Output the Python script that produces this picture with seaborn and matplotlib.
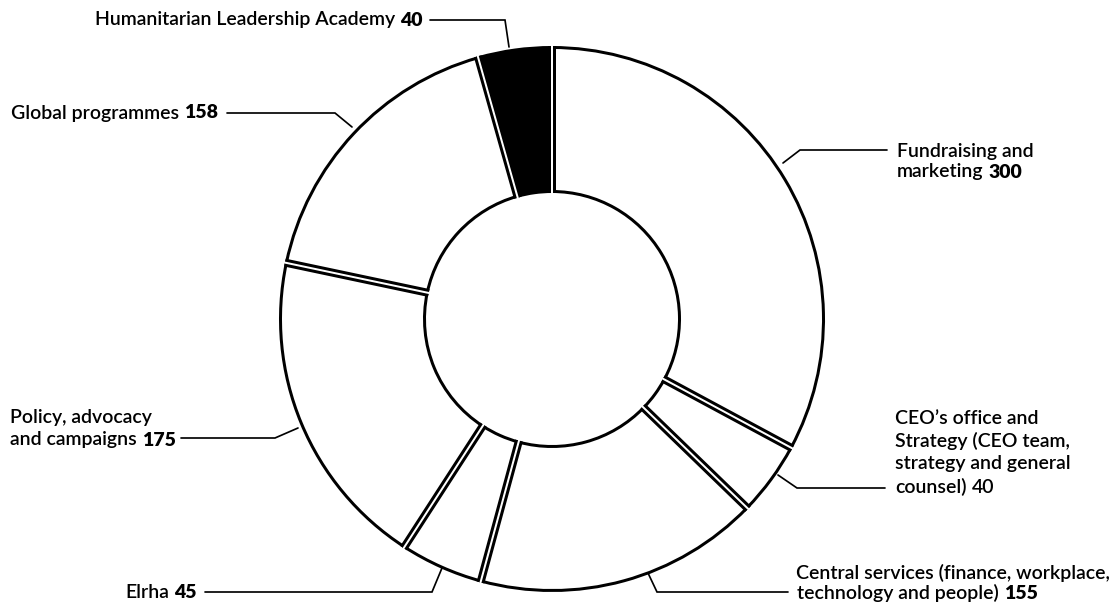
import numpy as np
import matplotlib
matplotlib.use("Agg")
import matplotlib.pyplot as plt
import seaborn as sns

# Staff numbers by directorate, in drawing order (clockwise from 12 o'clock)
categories = [
    "Fundraising and marketing",
    "CEO’s office and Strategy (CEO team, strategy and general counsel)",
    "Central services (finance, workplace, technology and people)",
    "Elrha",
    "Policy, advocacy and campaigns",
    "Global programmes",
    "Humanitarian Leadership Academy",
]
staff = [300, 40, 155, 45, 175, 158, 40]
label_lines = [
    ["Fundraising and", "marketing"],
    ["CEO’s office and", "Strategy (CEO team,", "strategy and general", "counsel)"],
    ["Central services (finance, workplace,", "technology and people)"],
    ["Elrha"],
    ["Policy, advocacy", "and campaigns"],
    ["Global programmes"],
    ["Humanitarian Leadership Academy"],
]
value_in_bold = [True, False, True, True, True, True, True]
slice_colors = ["white", "white", "white", "white", "white", "white", "black"]

sns.set_theme(style="white")
plt.rcParams["font.family"] = ["Lato", "DejaVu Sans"]

W, H = 1117, 606
PT = 72 / 100  # points per pixel at dpi 100
fig = plt.figure(figsize=(W / 100, H / 100), dpi=100)
fig.patch.set_facecolor("white")
ax = fig.add_axes([0, 0, 1, 1])


def Y(y):
    """Convert a top-down pixel row to the axes' upward y."""
    return H - y


cx, cy = 552, Y(319)
R_out, R_in = 273, 126
edge = 3.0  # outline thickness, px
gap = 2.0   # white gap between neighbouring slices, px

# slices with a black outline sitting just inside the ring
ax.pie(staff, radius=R_out - edge / 2, center=(cx, cy), startangle=90,
       counterclock=False, colors=slice_colors,
       wedgeprops=dict(width=R_out - R_in - edge, edgecolor="black",
                       linewidth=edge * PT))

# slice borders: a double black rule with a white gap between neighbours
bounds = 90 - 360 * np.cumsum(np.r_[0, staff])[:-1] / np.sum(staff)
for a in np.deg2rad(bounds):
    r = np.array([R_in, R_out])
    ax.plot(cx + r * np.cos(a), cy + r * np.sin(a), color="black",
            lw=(2 * edge + gap) * PT, solid_capstyle="butt")
    r = np.array([R_in - 2, R_out + 2])
    ax.plot(cx + r * np.cos(a), cy + r * np.sin(a), color="white",
            lw=gap * PT, solid_capstyle="butt")

# leader lines (pixel rows measured from the top)
leaders = [
    [(783, 163), (800, 150), (887, 150)],
    [(778, 475), (797, 488), (885, 488)],
    [(648, 573), (657, 592), (788, 592)],
    [(442, 568), (432, 592), (205, 592)],
    [(298, 428), (275, 438), (181, 438)],
    [(352, 127), (335, 113), (227, 113)],
    [(509, 47), (505, 20), (430, 20)],
]
for pts in leaders:
    xs = [p[0] for p in pts]
    ys = [Y(p[1]) for p in pts]
    ax.plot(xs, ys, color="black", lw=1.7 * PT, solid_joinstyle="miter")

# label placement: per-line anchor (x, row) and alignment
label_pos = [
    [(897, 151), (897, 172)],
    [(895, 418), (895, 441), (895, 464), (895, 487)],
    [(796, 573), (797, 593)],
    [(197, 593)],
    [(10, 418), (10, 440)],
    [(218, 113)],
    [(423, 20)],
]
label_ha = ["left", "left", "left", "right", "left", "right", "right"]

FS = 14
NAME_W = "semibold"
for lines, pos, ha, val, bold in zip(label_lines, label_pos, label_ha, staff, value_in_bold):
    for line, (x, y) in zip(lines[:-1], pos[:-1]):
        ax.text(x, Y(y), line, ha="left", va="center", fontsize=FS,
                fontweight=NAME_W, color="black")
    x, y = pos[-1]
    weight = "heavy" if bold else NAME_W
    if ha == "left":
        t = ax.text(x, Y(y), lines[-1], ha="left", va="center", fontsize=FS,
                    fontweight=NAME_W, color="black")
        ax.annotate(str(val), xy=(1, 0), xycoords=t, xytext=(3.8, 0),
                    textcoords="offset points", ha="left", va="bottom",
                    fontsize=FS, fontweight=weight, color="black")
    else:
        n = ax.text(x, Y(y), str(val), ha="right", va="center", fontsize=FS,
                    fontweight=weight, color="black")
        ax.annotate(lines[-1], xy=(0, 0), xycoords=n, xytext=(-3.8, 0),
                    textcoords="offset points", ha="right", va="bottom",
                    fontsize=FS, fontweight=NAME_W, color="black")

ax.set_xlim(0, W)
ax.set_ylim(0, H)
ax.set_aspect("equal")
ax.axis("off")
fig.savefig("out.png", dpi=100, facecolor="white")
